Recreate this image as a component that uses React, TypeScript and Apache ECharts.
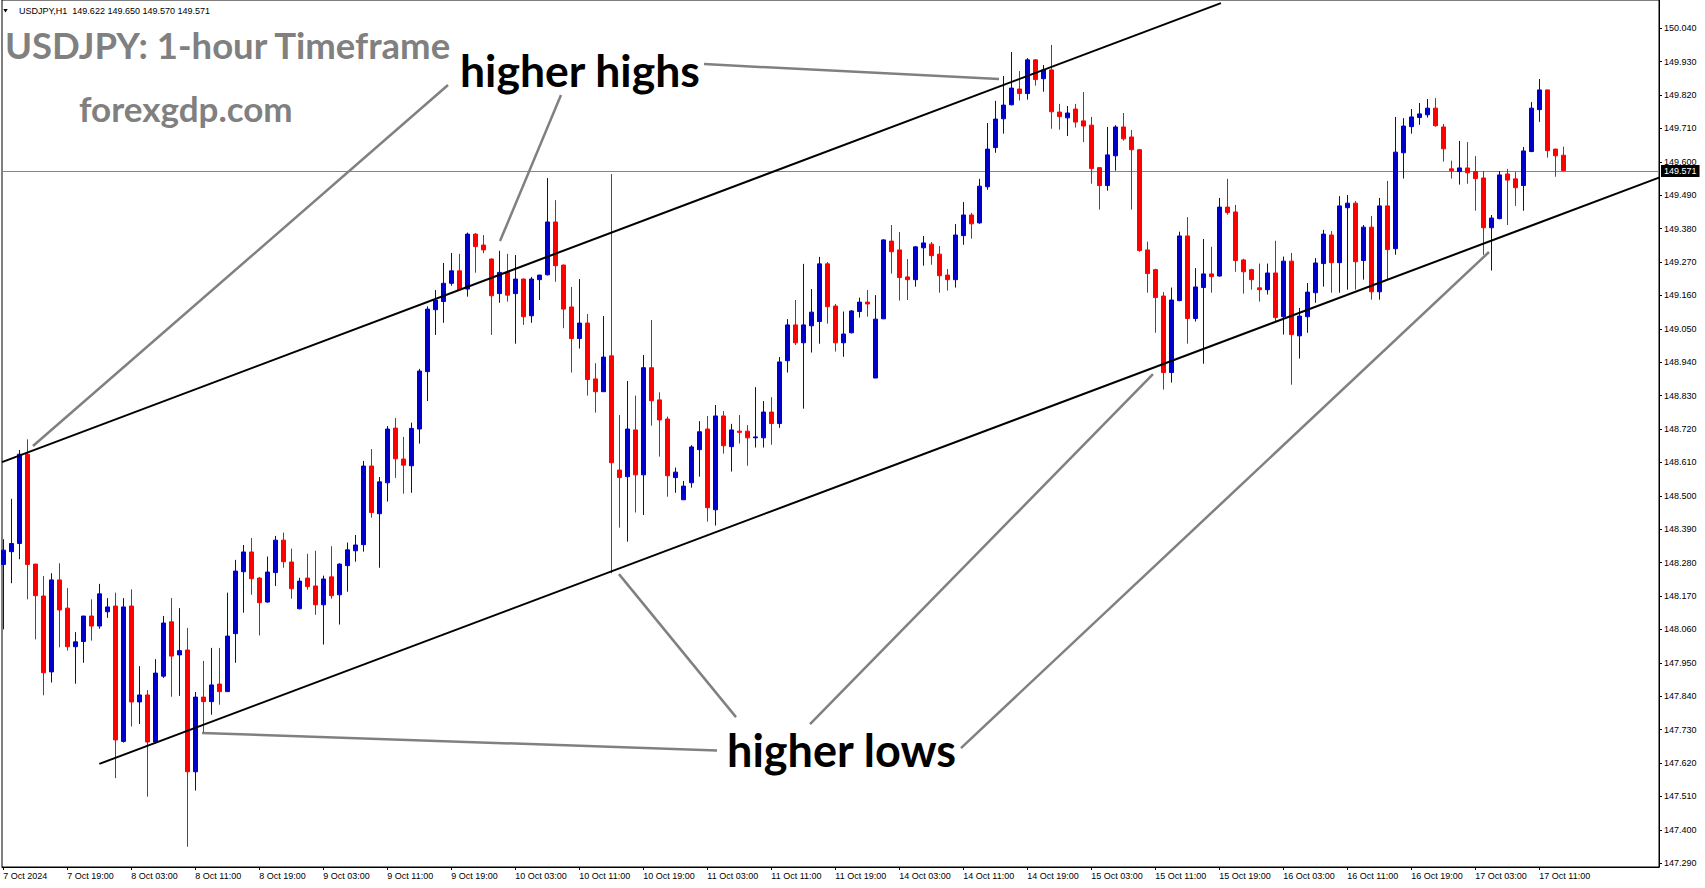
import React, { useEffect, useRef } from "react";
import * as echarts from "echarts";

const xLabels = [
  "7 Oct 2024", "7 Oct 19:00", "8 Oct 03:00", "8 Oct 11:00", "8 Oct 19:00",
  "9 Oct 03:00", "9 Oct 11:00", "9 Oct 19:00", "10 Oct 03:00", "10 Oct 11:00",
  "10 Oct 19:00", "11 Oct 03:00", "11 Oct 11:00", "11 Oct 19:00", "14 Oct 03:00",
  "14 Oct 11:00", "14 Oct 19:00", "15 Oct 03:00", "15 Oct 11:00", "15 Oct 19:00",
  "16 Oct 03:00", "16 Oct 11:00", "16 Oct 19:00", "17 Oct 03:00", "17 Oct 11:00",
];

const yTickLabels = [
  "150.040", "149.930", "149.820", "149.710", "149.600", "149.490", "149.380",
  "149.270", "149.160", "149.050", "148.940", "148.830", "148.720", "148.610",
  "148.500", "148.390", "148.280", "148.170", "148.060", "147.950", "147.840",
  "147.730", "147.620", "147.510", "147.400", "147.290",
];

const openP = [
  148.274, 148.316, 148.343, 148.637, 148.275, 148.170, 147.920, 148.223, 148.130, 148.003,
  148.020, 148.104, 148.071, 148.118, 148.137, 147.691, 148.137, 147.821, 147.844, 147.689,
  147.906, 148.085, 147.976, 147.992, 147.591, 147.837, 147.822, 147.880, 147.855, 148.046,
  148.250, 148.315, 148.229, 148.150, 148.247, 148.354, 148.282, 148.128, 148.229, 148.203,
  148.141, 148.233, 148.174, 148.270, 148.319, 148.339, 148.598, 148.441, 148.543, 148.723,
  148.621, 148.599, 148.720, 148.909, 149.113, 149.140, 149.200, 149.241, 149.181, 149.362,
  149.326, 149.280, 149.166, 149.236, 149.166, 149.214, 149.093, 149.212, 149.228, 149.402,
  149.260, 149.122, 149.018, 149.069, 148.885, 148.843, 148.961, 148.585, 148.563, 148.717,
  148.569, 148.922, 148.816, 148.753, 148.560, 148.487, 148.543, 148.652, 148.720, 148.454,
  148.763, 148.662, 148.713, 148.713, 148.691, 148.691, 148.776, 148.738, 148.945, 149.063,
  149.004, 149.060, 149.074, 149.264, 149.125, 149.004, 149.037, 149.107, 149.138, 148.888,
  149.083, 149.339, 149.310, 149.221, 149.212, 149.317, 149.329, 149.296, 149.227, 149.212,
  149.357, 149.425, 149.399, 149.518, 149.647, 149.742, 149.788, 149.840, 149.825, 149.936,
  149.874, 149.903, 149.764, 149.745, 149.774, 149.735, 149.721, 149.581, 149.522, 149.620,
  149.715, 149.682, 149.640, 149.310, 149.245, 149.158, 148.906, 149.143, 149.356, 149.084,
  149.186, 149.231, 149.224, 149.451, 149.435, 149.277, 149.245, 149.185, 149.179, 149.234,
  149.090, 149.273, 149.027, 149.090, 149.169, 149.265, 149.359, 149.268, 149.449, 149.464,
  149.275, 149.385, 149.172, 149.455, 149.314, 149.630, 149.716, 149.746, 149.755, 149.777,
  149.715, 149.577, 149.568, 149.580, 149.568, 149.547, 149.383, 149.413, 149.560, 149.544,
  149.522, 149.634, 149.772, 149.837, 149.642, 149.622,
];

const closeP = [
  148.321, 148.343, 148.637, 148.274, 148.171, 147.917, 148.223, 148.124, 148.003, 148.019,
  148.104, 148.071, 148.177, 148.134, 147.696, 148.134, 147.821, 147.844, 147.689, 147.916,
  148.081, 147.972, 147.990, 147.591, 147.837, 147.822, 147.877, 147.855, 148.038, 148.252,
  148.315, 148.227, 148.148, 148.249, 148.354, 148.283, 148.194, 148.219, 148.201, 148.141,
  148.226, 148.171, 148.275, 148.322, 148.338, 148.598, 148.445, 148.546, 148.720, 148.622,
  148.601, 148.722, 148.911, 149.115, 149.145, 149.200, 149.241, 149.179, 149.362, 149.321,
  149.310, 149.159, 149.236, 149.161, 149.214, 149.090, 149.214, 149.227, 149.402, 149.258,
  149.115, 149.018, 149.069, 148.883, 148.843, 148.957, 148.609, 148.560, 148.720, 148.569,
  148.922, 148.813, 148.750, 148.566, 148.578, 148.532, 148.661, 148.711, 148.461, 148.763,
  148.665, 148.717, 148.709, 148.691, 148.694, 148.776, 148.738, 148.941, 149.063, 149.004,
  149.063, 149.105, 149.264, 149.123, 149.004, 149.033, 149.109, 149.138, 149.132, 149.082,
  149.343, 149.304, 149.219, 149.212, 149.320, 149.333, 149.291, 149.225, 149.212, 149.359,
  149.425, 149.396, 149.520, 149.642, 149.741, 149.787, 149.843, 149.825, 149.936, 149.871,
  149.903, 149.765, 149.749, 149.761, 149.731, 149.718, 149.578, 149.522, 149.623, 149.715,
  149.676, 149.640, 149.308, 149.232, 149.153, 148.906, 149.145, 149.356, 149.084, 149.188,
  149.231, 149.222, 149.451, 149.433, 149.275, 149.238, 149.212, 149.179, 149.234, 149.087,
  149.273, 149.031, 149.092, 149.171, 149.267, 149.362, 149.268, 149.455, 149.464, 149.271,
  149.385, 149.172, 149.455, 149.311, 149.632, 149.718, 149.748, 149.758, 149.777, 149.719,
  149.643, 149.571, 149.580, 149.564, 149.545, 149.383, 149.415, 149.557, 149.540, 149.515,
  149.636, 149.777, 149.837, 149.637, 149.620, 149.571,
];

const lowP = [
  148.060, 148.212, 148.291, 148.159, 148.027, 147.843, 147.885, 148.001, 147.990, 147.881,
  147.950, 148.023, 148.062, 148.098, 147.570, 147.687, 147.740, 147.748, 147.509, 147.685,
  147.900, 147.838, 147.841, 147.344, 147.529, 147.718, 147.779, 147.812, 147.855, 147.950,
  148.115, 148.174, 148.040, 148.148, 148.203, 148.263, 148.161, 148.126, 148.191, 148.108,
  148.010, 148.161, 148.076, 148.184, 148.283, 148.316, 148.428, 148.263, 148.481, 148.559,
  148.507, 148.510, 148.672, 148.812, 149.030, 149.070, 149.192, 149.179, 149.156, 149.235,
  149.299, 149.030, 149.136, 149.140, 149.001, 149.063, 149.070, 149.145, 149.226, 149.205,
  149.052, 148.906, 148.985, 148.830, 148.774, 148.843, 148.245, 148.395, 148.349, 148.445,
  148.437, 148.731, 148.629, 148.497, 148.510, 148.486, 148.527, 148.563, 148.415, 148.402,
  148.639, 148.580, 148.672, 148.599, 148.659, 148.659, 148.668, 148.724, 148.906, 148.997,
  148.787, 148.972, 149.001, 149.067, 148.975, 148.958, 149.035, 149.087, 149.090, 148.888,
  149.082, 149.232, 149.143, 149.145, 149.189, 149.258, 149.261, 149.169, 149.176, 149.186,
  149.327, 149.347, 149.396, 149.508, 149.630, 149.693, 149.786, 149.802, 149.805, 149.851,
  149.831, 149.709, 149.706, 149.685, 149.713, 149.665, 149.528, 149.443, 149.505, 149.571,
  149.670, 149.443, 149.304, 149.169, 149.037, 148.850, 148.873, 149.141, 149.001, 149.074,
  148.935, 149.169, 149.222, 149.426, 149.238, 149.166, 149.179, 149.140, 149.163, 149.074,
  149.031, 148.866, 148.952, 149.037, 149.136, 149.189, 149.169, 149.169, 149.179, 149.179,
  149.212, 149.146, 149.146, 149.212, 149.294, 149.545, 149.693, 149.722, 149.746, 149.716,
  149.601, 149.545, 149.525, 149.528, 149.439, 149.294, 149.242, 149.411, 149.392, 149.455,
  149.439, 149.632, 149.732, 149.614, 149.551, 149.570,
];

const highP = [
  148.357, 148.490, 148.651, 148.686, 148.276, 148.236, 148.245, 148.278, 148.196, 148.051,
  148.104, 148.159, 148.210, 148.163, 148.181, 148.163, 148.192, 147.939, 147.860, 147.962,
  148.104, 148.163, 148.130, 148.065, 147.854, 147.956, 147.999, 147.999, 148.181, 148.289,
  148.338, 148.361, 148.232, 148.300, 148.368, 148.379, 148.326, 148.230, 148.309, 148.319,
  148.237, 148.334, 148.278, 148.346, 148.371, 148.615, 148.654, 148.562, 148.730, 148.756,
  148.694, 148.741, 148.918, 149.124, 149.178, 149.267, 149.300, 149.297, 149.367, 149.365,
  149.359, 149.282, 149.307, 149.297, 149.293, 149.216, 149.221, 149.228, 149.547, 149.474,
  149.262, 149.188, 149.214, 149.099, 148.937, 149.092, 149.560, 148.766, 148.878, 148.830,
  148.964, 149.079, 148.841, 148.761, 148.593, 148.549, 148.667, 148.746, 148.763, 148.799,
  148.779, 148.737, 148.766, 148.733, 148.858, 148.812, 148.825, 148.957, 149.082, 149.145,
  149.264, 149.181, 149.287, 149.270, 149.132, 149.107, 149.112, 149.153, 149.178, 149.161,
  149.345, 149.392, 149.369, 149.280, 149.323, 149.356, 149.336, 149.323, 149.247, 149.395,
  149.468, 149.432, 149.544, 149.728, 149.801, 149.883, 149.962, 149.899, 149.942, 149.939,
  149.919, 149.985, 149.791, 149.784, 149.791, 149.830, 149.748, 149.583, 149.715, 149.721,
  149.761, 149.705, 149.643, 149.337, 149.248, 149.171, 149.186, 149.370, 149.418, 149.250,
  149.346, 149.320, 149.481, 149.544, 149.458, 149.281, 149.248, 149.265, 149.265, 149.340,
  149.288, 149.300, 149.119, 149.201, 149.283, 149.376, 149.372, 149.487, 149.491, 149.471,
  149.392, 149.422, 149.481, 149.537, 149.748, 149.744, 149.774, 149.794, 149.807, 149.810,
  149.725, 149.604, 149.669, 149.665, 149.619, 149.570, 149.425, 149.570, 149.577, 149.567,
  149.649, 149.797, 149.873, 149.838, 149.643, 149.650,
];

const lastPrice = 149.571;

// trend lines in (bar index, price)
const upperChannel = [[-0.1625, 148.611], [152.2, 150.123]];
const lowerChannel = [[12.0, 147.617], [206.96, 149.548]];

// gray pointer lines in (bar index, price)
const pointerLines = [
  [[55.59, 149.853], [3.71, 148.664]],
  [[69.71, 149.82], [62.09, 149.339]],
  [[87.59, 149.922], [124.46, 149.873]],
  [[24.84, 147.719], [89.21, 147.661]],
  [[91.59, 147.771], [76.96, 148.242]],
  [[100.84, 147.748], [143.71, 148.901]],
  [[119.71, 147.669], [185.71, 149.303]],
];

const headerText = "USDJPY,H1  149.622 149.650 149.570 149.571";

export default function App() {
  const ref = useRef<HTMLDivElement>(null);

  useEffect(() => {
    document.body.style.margin = "0";
    const chart = echarts.init(ref.current!, null, { renderer: "svg" });

    const candleData = openP.map((o, i) => [i, o, closeP[i], lowP[i], highP[i]]);
    const axisFont = { fontFamily: "Liberation Sans", fontSize: 9, color: "#000" };

    const series: any[] = [
      {
        type: "candlestick",
        data: candleData,
        dimensions: ["idx", "open", "close", "lowest", "highest"],
        encode: { x: "idx", y: ["open", "close", "lowest", "highest"] },
        barWidth: 4,
        itemStyle: {
          color: "#0000CD",
          color0: "#FF0000",
          borderColor: "#0000CD",
          borderColor0: "#FF0000",
          borderWidth: 1,
        },
        z: 3,
        markLine: {
          silent: true,
          symbol: "none",
          animation: false,
          lineStyle: { color: "#778899", width: 1, type: "solid" },
          label: {
            show: true,
            position: "end",
            distance: 2,
            formatter: lastPrice.toFixed(3),
            backgroundColor: "#000",
            color: "#fff",
            fontFamily: "Liberation Sans",
            fontSize: 9,
            padding: [2, 3, 1, 3],
          },
          data: [{ yAxis: lastPrice }],
          z: 2,
        },
      },
      {
        type: "line",
        data: upperChannel,
        symbol: "none",
        lineStyle: { color: "#000", width: 2 },
        z: 5,
        silent: true,
      },
      {
        type: "line",
        data: lowerChannel,
        symbol: "none",
        lineStyle: { color: "#000", width: 2 },
        z: 5,
        silent: true,
      },
      ...pointerLines.map((seg) => ({
        type: "line",
        data: seg,
        symbol: "none",
        lineStyle: { color: "#808080", width: 2.5 },
        z: 6,
        silent: true,
      })),
    ];

    const option: any = {
      animation: false,
      backgroundColor: "#fff",
      grid: {
        left: 2,
        top: 0,
        width: 1657,
        height: 867,
        show: true,
        borderColor: "#000",
        borderWidth: 1,
        backgroundColor: "transparent",
      },
      xAxis: {
        type: "value",
        min: -0.1625,
        max: 206.9625,
        axisLine: { show: true, lineStyle: { color: "#000", width: 1 } },
        axisTick: {
          show: true,
          length: 3,
          lineStyle: { color: "#000" },
          customValues: xLabels.map((_, k) => k * 8),
        },
        axisLabel: {
          ...axisFont,
          align: "left",
          margin: 4,
          customValues: xLabels.map((_, k) => k * 8),
          formatter: (v: number) => xLabels[Math.round(v / 8)] ?? "",
        },
        splitLine: { show: false },
      },
      yAxis: {
        type: "value",
        position: "right",
        min: 147.2773,
        max: 150.1332,
        axisLine: { show: true, onZero: false, lineStyle: { color: "#000", width: 1 } },
        axisTick: {
          show: true,
          length: 3,
          lineStyle: { color: "#000" },
          customValues: yTickLabels.map(Number),
        },
        axisLabel: {
          ...axisFont,
          margin: 5,
          customValues: yTickLabels.map(Number),
          formatter: (v: number) => v.toFixed(3),
        },
        splitLine: { show: false },
      },
      series,
      graphic: [
        {
          type: "polygon",
          shape: { points: [[3.3, 9], [7.7, 9], [5.5, 12.5]] },
          style: { fill: "#000" },
        },
        {
          type: "text",
          x: 19,
          y: 11,
          style: {
            text: headerText,
            fontFamily: "Liberation Sans",
            fontSize: 9,
            fill: "#000",
            verticalAlign: "middle",
          },
        },
        {
          type: "text",
          x: 5,
          y: 45,
          style: {
            text: "USDJPY: 1-hour Timeframe",
            fontFamily: "Lato",
            fontWeight: "bold",
            fontSize: 36.5,
            fill: "#808080",
            verticalAlign: "middle",
          },
        },
        {
          type: "text",
          x: 79,
          y: 108,
          style: {
            text: "forexgdp.com",
            fontFamily: "Lato",
            fontWeight: "bold",
            fontSize: 35,
            fill: "#808080",
            verticalAlign: "middle",
          },
        },
        {
          type: "text",
          x: 460,
          y: 69,
          style: {
            text: "higher highs",
            fontFamily: "Lato",
            fontWeight: "bold",
            fontSize: 44.5,
            fill: "#000",
            verticalAlign: "middle",
          },
        },
        {
          type: "text",
          x: 727,
          y: 750,
          style: {
            text: "higher lows",
            fontFamily: "Lato",
            fontWeight: "bold",
            fontSize: 45,
            fill: "#000",
            verticalAlign: "middle",
          },
        },
      ],
    };

    chart.setOption(option);
    return () => chart.dispose();
  }, []);

  return <div ref={ref} style={{ width: 1705, height: 888, background: "#fff" }} />;
}
